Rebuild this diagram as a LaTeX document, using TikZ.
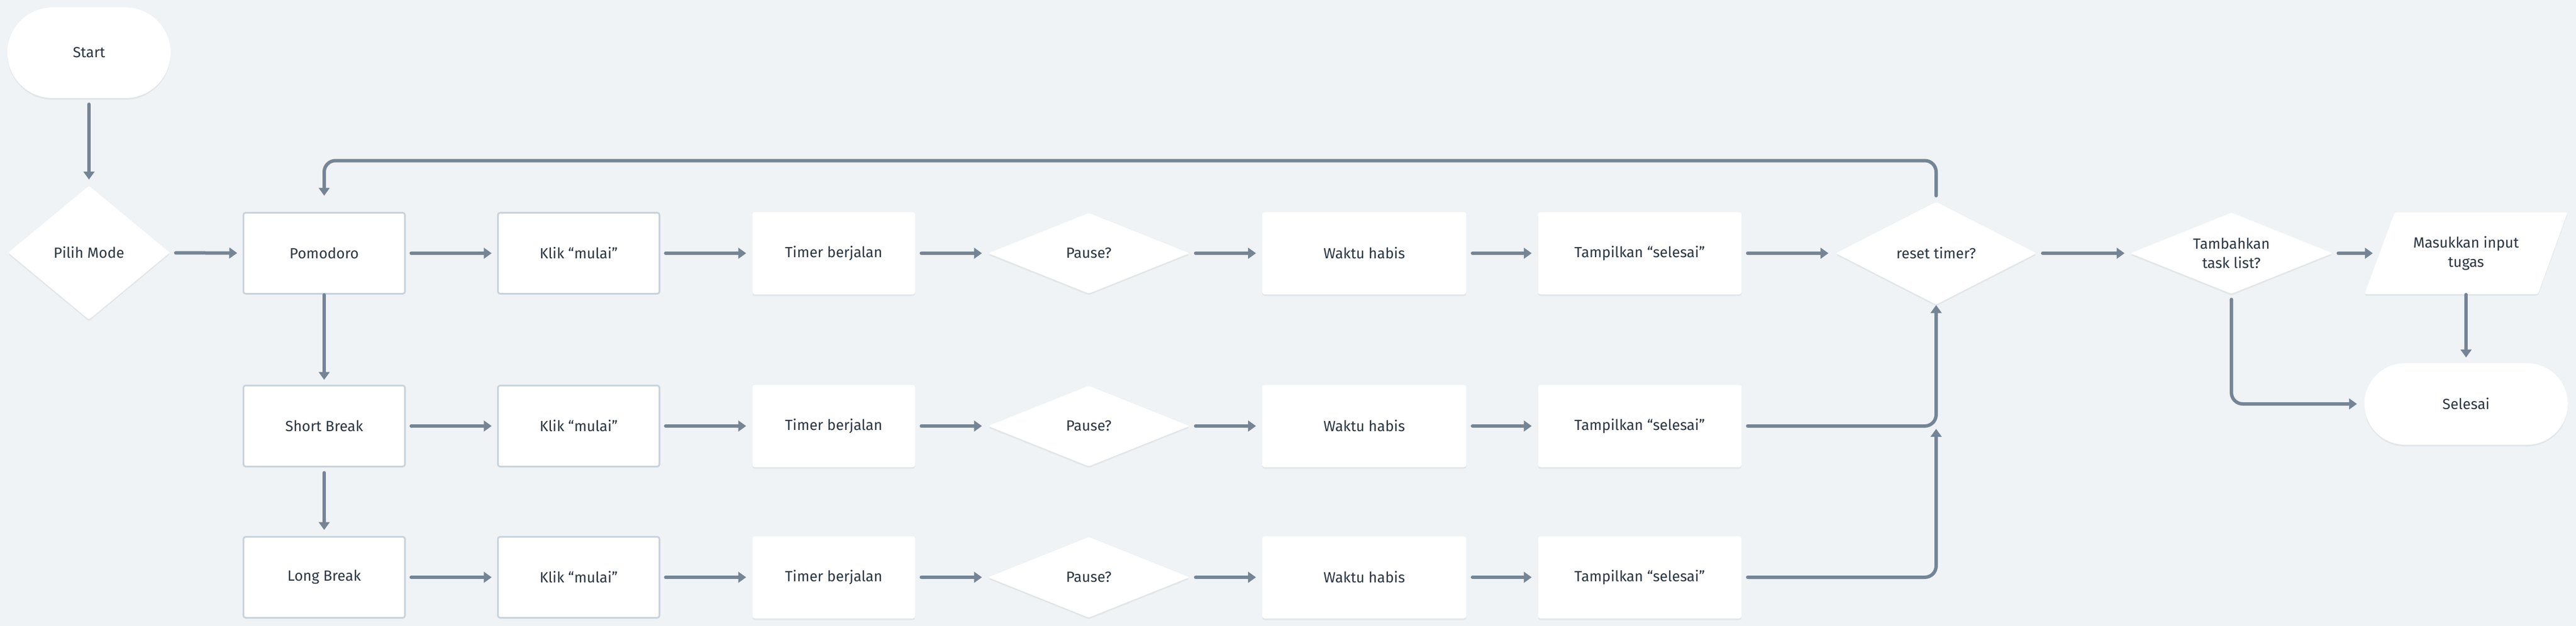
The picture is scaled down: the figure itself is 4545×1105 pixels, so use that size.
\documentclass[tikz,border=0pt]{standalone}
\usepackage{fontspec}
\setmainfont{Fira Sans}
\usetikzlibrary{shapes.geometric,arrows.meta,shadows}
\definecolor{bgc}{HTML}{EFF3F6}
\definecolor{arrc}{HTML}{758595}
\definecolor{txtc}{HTML}{2B3642}
\definecolor{brdc}{HTML}{C9D3DD}
\tikzset{
  base/.style={fill=white, text=txtc, font=\fontsize{26}{34}\selectfont, inner sep=0pt, outer sep=0pt, align=center},
  shad/.style={drop shadow={shadow xshift=0pt, shadow yshift=-3pt, opacity=0.05, fill=black}},
  plainbox/.style={base, shad, rectangle, rounded corners=4pt, minimum width=#1, minimum height=145pt},
  bordbox/.style={base, rectangle, rounded corners=4pt, draw=brdc, line width=3pt, minimum width=285pt, minimum height=143pt},
  dia/.style 2 args={base, shad, diamond, rounded corners=3pt, minimum width=#1, minimum height=#2},
  term/.style n args={3}{base, shad, rectangle, rounded corners=#3, minimum width=#1, minimum height=#2},
  arr/.style={draw=arrc, line width=6pt, line cap=round, -{Triangle[length=14pt,width=19pt]}, shorten <=11pt, shorten >=11pt},
}
\begin{document}
\begin{tikzpicture}[x=1pt,y=-1pt]
\useasboundingbox (0,0) rectangle (4545,1105);
\fill[bgc] (0,0) rectangle (4545,1105);

% left column
\node[term={288pt}{160pt}{80pt}] (start) at (157,93) {Start};
\node[dia={285pt}{236pt}, aspect=1.2] (pilih) at (157,446) {Pilih Mode};

% modes
\node[bordbox] (pomo) at (572,447) {Pomodoro};
\node[bordbox] (short) at (572,752) {Short Break};
\node[bordbox] (long) at (572,1019) {Long Break};

% rows
\foreach \i/\y/\m in {1/447/pomo,2/752/short,3/1019/long} {
  \node[bordbox] (klik\i) at (1021,\y) {Klik “mulai”};
  \node[plainbox=287pt] (timer\i) at (1471,\y) {Timer berjalan};
  \node[dia={355pt}{142pt}, aspect=2.5] (pause\i) at (1921,\y) {Pause?};
  \node[plainbox=360pt] (waktu\i) at (2407,\y) {Waktu habis};
  \node[plainbox=359pt] (tamp\i) at (2893,\y) {Tampilkan “selesai”};
  \draw[arr] (\m) -- (klik\i);
  \draw[arr] (klik\i) -- (timer\i);
  \draw[arr] (timer\i) -- (pause\i);
  \draw[arr] (pause\i) -- (waktu\i);
  \draw[arr] (waktu\i) -- (tamp\i);
}

% right part
\node[dia={354pt}{181pt}, aspect=1.95] (reset) at (3416,447) {reset timer?};
\node[dia={357pt}{143pt}, aspect=2.5] (tamb) at (3937,447) {Tambahkan\\task list?};
\fill[white, shad, rounded corners=3pt] (4225,375) -- (4530,375) -- (4478,519) -- (4172,519) -- cycle;
\node[base, fill=none, rectangle, minimum width=305pt, minimum height=144pt] (masuk) at (4351,447) {Masukkan input\\tugas};
\node[term={359pt}{144pt}{72pt}] (selesai) at (4351,713) {Selesai};
\coordinate (join) at (3416,757);

% connectors
\draw[arr] (start) -- (pilih);
\draw[arr] (pilih) -- (pomo);
\draw[arr, shorten <=2pt, shorten >=10pt] (pomo) -- (short);
\draw[arr, shorten >=12pt] (short) -- (long);
\draw[arr, shorten >=13pt] (tamp1) -- (reset);
\draw[arr, rounded corners=20pt, shorten >=1pt] (tamp2.east) -| (reset.south);
\draw[arr, rounded corners=20pt, shorten >=0pt] (tamp3.east) -| (join);
\draw[arr, rounded corners=20pt, shorten >=30pt] (reset.north) -- ++(0,-73) -| (pomo.north);
\draw[arr, shorten >=10pt] (reset) -- (tamb);
\draw[arr, shorten <=10pt, shorten >=12pt] (tamb.east) -- (masuk.west);
\draw[arr, shorten <=1pt, shorten >=10pt] (masuk.south) -- (selesai.north);
\draw[arr, rounded corners=20pt, shorten <=10pt, shorten >=13pt] (tamb.south) |- (selesai.west);
\end{tikzpicture}
\end{document}
